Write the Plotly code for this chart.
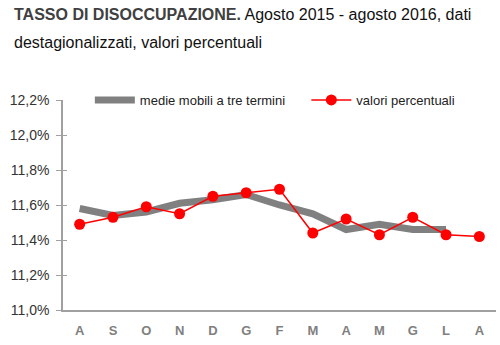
import plotly.graph_objects as go

months = ["A", "S", "O", "N", "D", "G", "F", "M", "A", "M", "G", "L", "A"]
x_idx = list(range(len(months)))
valori = [11.49, 11.53, 11.59, 11.55, 11.65, 11.67, 11.69, 11.44, 11.52, 11.43, 11.53, 11.43, 11.42]
medie = [11.58, 11.54, 11.56, 11.61, 11.63, 11.66, 11.60, 11.55, 11.46, 11.49, 11.46, 11.46, None]
y_ticks = [11.0, 11.2, 11.4, 11.6, 11.8, 12.0, 12.2]
y_labels = ["11,0%", "11,2%", "11,4%", "11,6%", "11,8%", "12,0%", "12,2%"]

fig = go.Figure()
fig.add_trace(go.Scatter(x=x_idx, y=medie, mode="lines", name="medie mobili a tre termini",
                         line=dict(color="#808080", width=7), connectgaps=False, legend="legend"))
fig.add_trace(go.Scatter(x=x_idx, y=valori, mode="lines+markers", name="valori percentuali",
                         line=dict(color="#ff0000", width=1.5),
                         marker=dict(color="#ff0000", size=11), legend="legend2"))
fig.add_trace(go.Scatter(x=[None], y=[None], yaxis="y2", showlegend=False, hoverinfo="skip"))

leg_common = dict(orientation="h", yanchor="middle", xanchor="left", bgcolor="rgba(0,0,0,0)",
                  font=dict(size=13, color="#222222", family="Arial, Liberation Sans, sans-serif"),
                  itemwidth=40)

fig.update_layout(
    width=500, height=345,
    margin=dict(l=63, r=4, t=100, b=35),
    paper_bgcolor="white", plot_bgcolor="white",
    font=dict(family="Arial, Liberation Sans, sans-serif", size=13, color="#333333"),
    showlegend=True,
    legend=dict(x=0.062, y=1.0, **leg_common),
    legend2=dict(x=0.562, y=1.0, **leg_common),
    xaxis=dict(tickmode="array", tickvals=x_idx, ticktext=months, range=[-0.5, 12.5],
               showgrid=False, zeroline=False, showline=True, linecolor="#a0a0a0", linewidth=1.5,
               ticks="", tickfont=dict(size=13, color="#808080", weight="bold"),
               ticklabelstandoff=8),
    yaxis=dict(tickmode="array", tickvals=y_ticks, ticktext=y_labels, range=[11.0, 12.2],
               showgrid=False, zeroline=False, showline=True, linecolor="#a0a0a0", linewidth=1.5,
               ticks="outside", ticklen=5, tickcolor="#a0a0a0", tickwidth=1,
               tickfont=dict(size=14, color="#333333"), ticklabelstandoff=4),
    yaxis2=dict(overlaying="y", range=[11.0, 12.2], tickmode="array", tickvals=y_ticks,
                ticktext=["" for _ in y_ticks], showgrid=False, zeroline=False, showline=False,
                ticks="inside", ticklen=4, tickcolor="#a0a0a0", side="left", showticklabels=False),
)

fig.add_annotation(xref="paper", yref="paper", x=-0.118, y=1.405, xanchor="left", yanchor="middle",
                   align="left", showarrow=False,
                   text="<b><span style='color:#404040'>TASSO DI DISOCCUPAZIONE.</span></b> Agosto 2015 - agosto 2016, dati",
                   font=dict(size=16, color="#111111", family="Arial, Liberation Sans, sans-serif"))
fig.add_annotation(xref="paper", yref="paper", x=-0.118, y=1.276, xanchor="left", yanchor="middle",
                   align="left", showarrow=False,
                   text="destagionalizzati, valori percentuali",
                   font=dict(size=16, color="#111111", family="Arial, Liberation Sans, sans-serif"))

fig.write_html("out.html")
